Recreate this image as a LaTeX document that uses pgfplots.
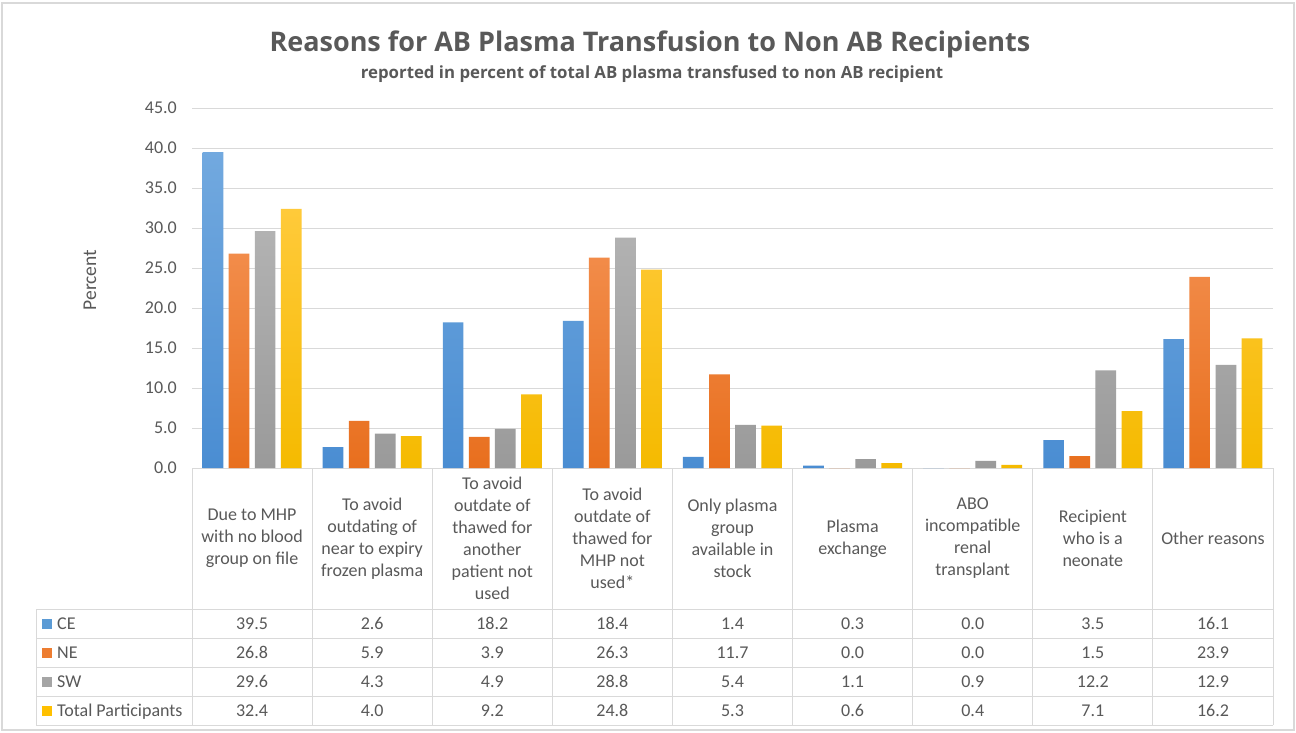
\documentclass[border=0pt]{standalone}
\usepackage{pgfplots}
\pgfplotsset{compat=1.18}
\usepackage{fontspec}
\setmainfont{Carlito}
\newfontfamily\titlefont{Open Sans}
\definecolor{txt}{HTML}{595959}
\definecolor{gridc}{HTML}{D9D9D9}
\definecolor{ceA}{HTML}{72A9DF}\definecolor{ceB}{HTML}{4A8DD2}
\definecolor{neA}{HTML}{F28C4A}\definecolor{neB}{HTML}{E86F1E}
\definecolor{swA}{HTML}{B2B2B2}\definecolor{swB}{HTML}{9A9A9A}
\definecolor{tpA}{HTML}{FFCA3A}\definecolor{tpB}{HTML}{F5BA00}
\definecolor{ce}{HTML}{5B9BD5}
\definecolor{ne}{HTML}{ED7D31}
\definecolor{sw}{HTML}{A5A5A5}
\definecolor{tp}{HTML}{FFC000}
\begin{document}
\begin{tikzpicture}[x=1pt,y=-1pt]
\path[use as bounding box, fill=white] (0,0) rectangle (1296,733);
\draw[color=gridc, line width=1.5pt] (2,3) rectangle (1294,730);
\begin{axis}[
  at={(192pt,-468pt)}, anchor=south west, scale only axis,
  width=1081pt, height=360pt,
  xmin=-0.5, xmax=8.5, ymin=0, ymax=45,
  ytick={0,5,...,45}, xtick=\empty,
  ybar=5.4pt, bar width=20.7pt,
  axis line style={draw=none},
  ymajorgrids, major grid style={gridc, line width=0.9pt},
  tick style={draw=none},
  yticklabel style={font=\fontsize{18}{21}\selectfont, text=txt, inner sep=0pt, xshift=-15pt},
  /pgf/number format/fixed, /pgf/number format/fixed zerofill,
  /pgf/number format/precision=1, /pgf/number format/assume math mode=true,
  clip=false,
]
\addplot[draw=none, top color=ceA, bottom color=ceB] coordinates {(0,39.5) (1,2.6) (2,18.2) (3,18.4) (4,1.4) (5,0.3) (6,0.0) (7,3.5) (8,16.1)};
\addplot[draw=none, top color=neA, bottom color=neB] coordinates {(0,26.8) (1,5.9) (2,3.9) (3,26.3) (4,11.7) (5,0.0) (6,0.0) (7,1.5) (8,23.9)};
\addplot[draw=none, top color=swA, bottom color=swB] coordinates {(0,29.6) (1,4.3) (2,4.9) (3,28.8) (4,5.4) (5,1.1) (6,0.9) (7,12.2) (8,12.9)};
\addplot[draw=none, top color=tpA, bottom color=tpB] coordinates {(0,32.4) (1,4.0) (2,9.2) (3,24.8) (4,5.3) (5,0.6) (6,0.4) (7,7.1) (8,16.2)};
\end{axis}
% titles
\node[font=\titlefont\bfseries\fontsize{27}{32}\selectfont, text=txt] at (650,44) {Reasons for AB Plasma Transfusion to Non AB Recipients};
\node[font=\titlefont\bfseries\fontsize{16.8}{20}\selectfont, text=txt] at (652,74) {reported in percent of total AB plasma transfused to non AB recipient};
\node[rotate=90, font=\fontsize{19.5}{22}\selectfont, text=txt] at (90,280) {Percent};
% table grid
\foreach \i in {0,...,9} \draw[gridc, line width=0.9pt] (192+\i*120.111,468) -- (192+\i*120.111,725);
\draw[gridc, line width=0.9pt] (36,609) -- (36,725);
\foreach \yy in {609,638,667,696,725} \draw[gridc, line width=0.9pt] (36,\yy) -- (1273,\yy);
% header
\foreach \t [count=\i from 0] in {
  {Due to MHP\\with no blood\\group on file},
  {To avoid\\outdating of\\near to expiry\\frozen plasma},
  {To avoid\\outdate of\\thawed for\\another\\patient not\\used},
  {To avoid\\outdate of\\thawed for\\MHP not\\used*},
  {Only plasma\\group\\available in\\stock},
  {Plasma\\exchange},
  {ABO\\incompatible\\renal\\transplant},
  {Recipient\\who is a\\neonate},
  {Other reasons}}
  \node[align=center, font=\fontsize{18}{22}\selectfont, text=txt] at (192+\i*120.111+60.06,538.5) {\t};
% legend column
\foreach \n/\c [count=\r from 0] in {CE/ce, NE/ne, SW/sw, Total Participants/tp} {
  \fill[\c] (42,623.5+\r*29-5) rectangle (52,623.5+\r*29+5);
  \node[anchor=base west, inner sep=0pt, font=\fontsize{18}{21}\selectfont, text=txt] at (57,623.5+\r*29+5.8) {\n};
}
% values
\foreach \row [count=\r from 0] in {
  {39.5,2.6,18.2,18.4,1.4,0.3,0.0,3.5,16.1},
  {26.8,5.9,3.9,26.3,11.7,0.0,0.0,1.5,23.9},
  {29.6,4.3,4.9,28.8,5.4,1.1,0.9,12.2,12.9},
  {32.4,4.0,9.2,24.8,5.3,0.6,0.4,7.1,16.2}} {
  \foreach \v [count=\i from 0] in \row
    \node[anchor=base, inner sep=0pt, font=\fontsize{18}{21}\selectfont, text=txt] at (192+\i*120.111+60.06,623.5+\r*29+5.8) {\v};
}
\end{tikzpicture}
\end{document}
